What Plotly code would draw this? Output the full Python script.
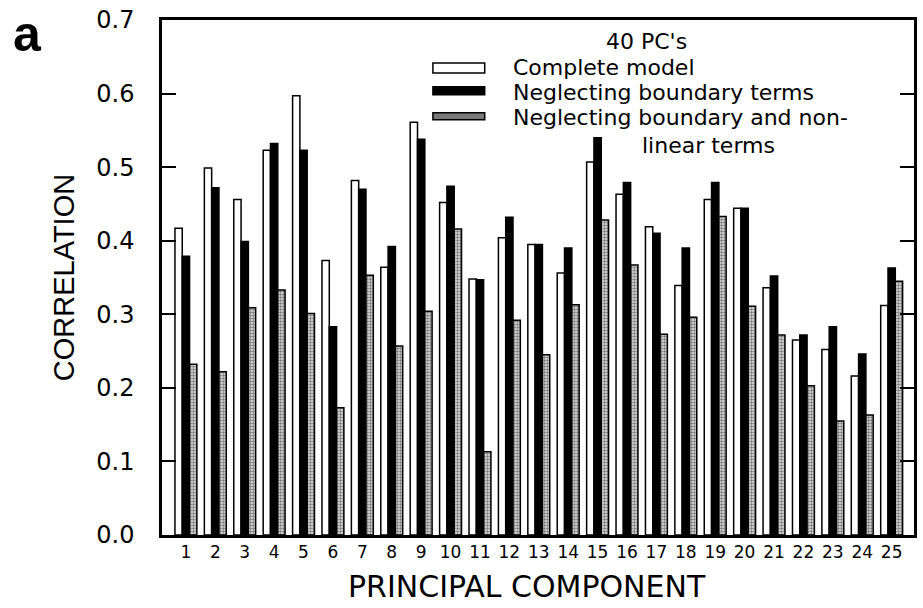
import plotly.graph_objects as go

# Correlation per principal component for three model variants (40 PCs)
components = list(range(1, 26))
complete_model = [0.417, 0.499, 0.456, 0.523, 0.597, 0.373, 0.482, 0.364, 0.561, 0.452,
                  0.348, 0.404, 0.395, 0.356, 0.507, 0.463, 0.419, 0.339, 0.456, 0.444,
                  0.336, 0.265, 0.252, 0.216, 0.312]
no_boundary = [0.379, 0.472, 0.399, 0.532, 0.523, 0.283, 0.470, 0.392, 0.538, 0.474,
               0.347, 0.432, 0.395, 0.390, 0.540, 0.479, 0.410, 0.390, 0.479, 0.444,
               0.352, 0.272, 0.283, 0.246, 0.363]
no_boundary_nonlinear = [0.232, 0.222, 0.309, 0.333, 0.301, 0.173, 0.353, 0.257, 0.304, 0.416,
                         0.113, 0.292, 0.245, 0.313, 0.428, 0.367, 0.273, 0.296, 0.433, 0.311,
                         0.272, 0.203, 0.155, 0.163, 0.345]
y_ticks = [0.0, 0.1, 0.2, 0.3, 0.4, 0.5, 0.6, 0.7]
legend_title = "40 PC's"
legend_labels = ["Complete model", "Neglecting boundary terms",
                 "Neglecting boundary and non-", "linear terms"]

W, H = 923, 608
L, R, T, B = 162, 6, 19, 73
PW, PH = W - L - R, H - T - B


def px(x):
    return (x - L) / PW


def py(y):
    return (H - B - y) / PH


GEO = "DejaVu Sans"
HEL = "Liberation Sans"

fig = go.Figure()
line = dict(color="black", width=1.5)
fig.add_bar(x=components, y=complete_model, name=legend_labels[0],
            marker=dict(color="white", line=line))
fig.add_bar(x=components, y=no_boundary, name=legend_labels[1],
            marker=dict(color="black", line=line))
fig.add_bar(x=components, y=no_boundary_nonlinear, name="stippled",
            marker=dict(color="white", line=line,
                        pattern=dict(shape=".", fgcolor="#111", bgcolor="#e0e0e0",
                                     size=3, solidity=0.5)))

# hand-drawn legend block
swatches = [(62, 72, "white"), (86, 94, "black"), (112, 119, "#7a7a7a")]
for y0, y1, col in swatches:
    fig.add_shape(type="rect", xref="paper", yref="paper",
                  x0=px(434), x1=px(486), y0=py(y1), y1=py(y0),
                  fillcolor=col, line=dict(color="black", width=1.5))

texts = [(606, 41, legend_title, 22), (512, 67, legend_labels[0], 22),
         (512, 92, legend_labels[1], 22), (512, 117, legend_labels[2], 22),
         (642, 145, legend_labels[3], 22)]
for x, y, t, s in texts:
    fig.add_annotation(xref="paper", yref="paper", x=px(x), y=py(y), text=t,
                       showarrow=False, xanchor="left", yanchor="middle",
                       font=dict(family=GEO, size=s, color="black"))

fig.add_annotation(xref="paper", yref="paper", x=px(10), y=py(33), text="<b>a</b>",
                   showarrow=False, xanchor="left", yanchor="middle",
                   font=dict(family=HEL, size=50, color="black"))

# x-axis caption, set slightly left of the plot centre
fig.add_annotation(xref="paper", yref="paper", x=px(528), y=py(587),
                   text="PRINCIPAL COMPONENT", showarrow=False,
                   xanchor="center", yanchor="middle",
                   font=dict(family=GEO, size=30, color="black"))

fig.update_layout(
    width=W, height=H,
    margin=dict(l=L, r=R, t=T, b=B),
    paper_bgcolor="white", plot_bgcolor="white",
    barmode="group", bargap=0.255, bargroupgap=0,
    showlegend=False,
)
fig.update_xaxes(
    range=[0.187, 25.76], tickmode="array", tickvals=components,
    ticktext=[str(c) for c in components], ticks="",
    tickfont=dict(family=GEO, size=17, color="black"),
    showline=True, linecolor="black", linewidth=2.5, mirror=True,
    showgrid=False, zeroline=False,
)
fig.update_yaxes(
    range=[0, 0.7], tickmode="array", tickvals=y_ticks,
    ticktext=[f"{v:.1f}" for v in y_ticks],
    ticks="inside", ticklen=14, tickwidth=2, tickcolor="black",
    ticklabelstandoff=20,
    tickfont=dict(family=GEO, size=24, color="black"),
    showline=True, linecolor="black", linewidth=2.5, mirror="ticks",
    showgrid=False, zeroline=False,
    title=dict(text="CORRELATION", standoff=14,
               font=dict(family=HEL, size=29, color="black")),
)

fig.write_html("out.html")
